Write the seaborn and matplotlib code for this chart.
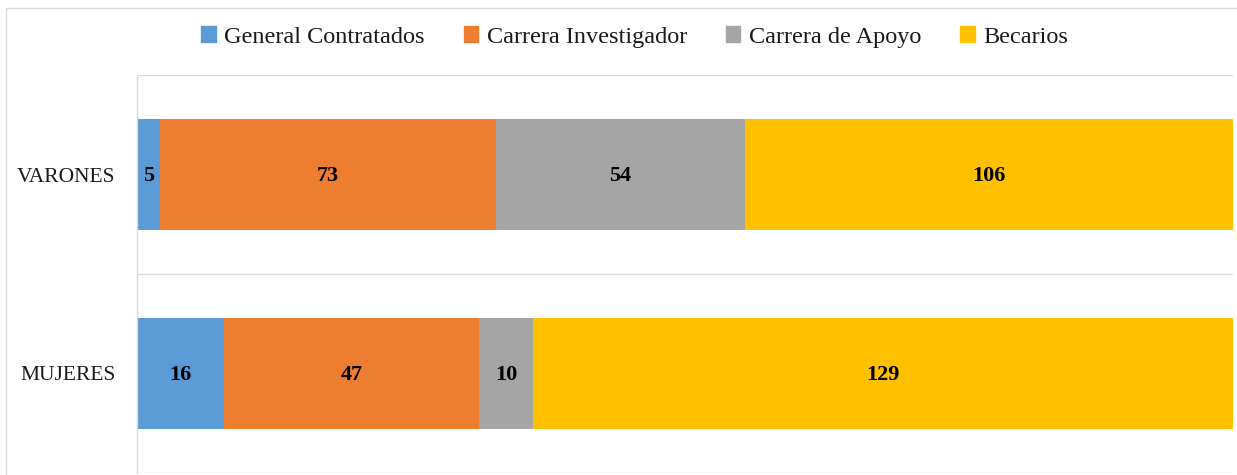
import numpy as np
import pandas as pd
import matplotlib
matplotlib.use('Agg')
import matplotlib.pyplot as plt
from matplotlib.patches import Rectangle
import seaborn as sns

# data
categories = ['VARONES', 'MUJERES']
series_names = ['General Contratados', 'Carrera Investigador', 'Carrera de Apoyo', 'Becarios']
general = [5, 16]
investigador = [73, 47]
apoyo = [54, 10]
becarios = [106, 129]
colors = ['#5B9BD5', '#ED7D31', '#A5A5A5', '#FFC000']

sns.set_style('white')
plt.rcParams['font.family'] = ['Liberation Serif', 'DejaVu Serif']
plt.rcParams['text.color'] = '#1a1a1a'
plt.rcParams['ytick.color'] = '#1a1a1a'

counts = np.array([general, investigador, apoyo, becarios], dtype=float)  # series x category
pct = counts / counts.sum(axis=0) * 100
cum = np.cumsum(pct, axis=0)

fig = plt.figure(figsize=(12.37, 4.75), dpi=100)
ax = fig.add_axes([137 / 1237, 2 / 475, 1096 / 1237, 398 / 475])

# stacked: draw cumulative totals from the outermost series inward
for i in range(len(series_names) - 1, -1, -1):
    df = pd.DataFrame({'cat': categories, 'val': cum[i]})
    sns.barplot(data=df, x='val', y='cat', orient='h', color=colors[i],
                width=0.56, saturation=1, linewidth=0, ax=ax)

for i in range(len(series_names)):
    for j in range(len(categories)):
        mid = cum[i, j] - pct[i, j] / 2
        ax.text(mid, j + 0.01, f'{int(counts[i, j])}', ha='center', va='center',
                fontsize=16, fontweight='bold', color='black')

ax.set_xlim(0, 100)
ax.set_ylim(1.5, -0.5)
ax.set_xlabel('')
ax.set_ylabel('')
ax.set_xticks([])
ax.set_yticks(range(len(categories)))
ax.set_yticklabels(categories, fontsize=15.5)
ax.tick_params(axis='y', length=0, pad=15.5)
ax.set_yticks([-0.5, 0.5, 1.5], minor=True)
ax.tick_params(axis='y', which='minor', length=0)
ax.grid(True, axis='y', which='minor', color='#D9D9D9', linewidth=1)
ax.set_axisbelow(True)
for s in ['top', 'right', 'bottom']:
    ax.spines[s].set_visible(False)
ax.spines['left'].set_color('#D9D9D9')
ax.spines['left'].set_linewidth(1)

handles = [Rectangle((0, 0), 1, 1, color=c) for c in colors]
fig.legend(handles, series_names, loc='center', bbox_to_anchor=(0.513, 0.922),
           ncol=4, frameon=False, fontsize=17.5, handlelength=0.6, handleheight=0.6,
           handletextpad=0.35, columnspacing=1.6)

fig.patches.append(Rectangle((6 / 1237, -0.1), 1.2, 1 - 8 / 475 + 0.1,
                             transform=fig.transFigure, fill=False,
                             edgecolor='#D9D9D9', linewidth=1))

fig.savefig('out.png', dpi=100)
